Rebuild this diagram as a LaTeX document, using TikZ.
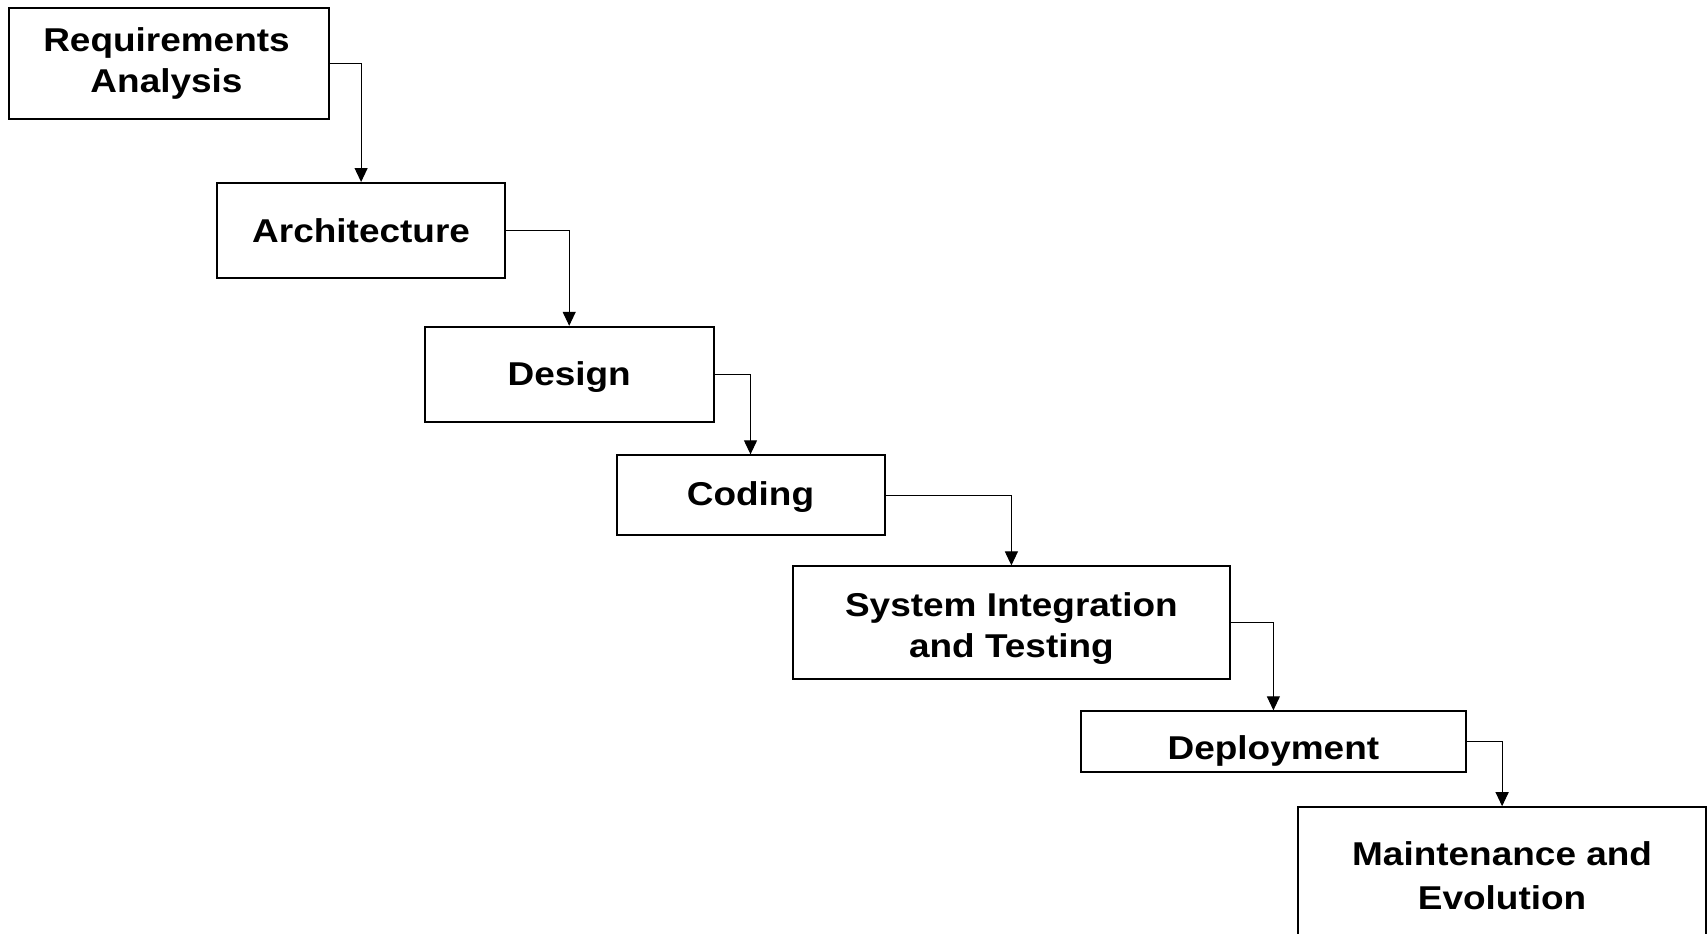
\documentclass[tikz,border=0pt]{standalone}
\usepackage{fontspec}
\setmainfont[FakeStretch=1.12]{Liberation Sans}
\usetikzlibrary{arrows.meta}
\newcommand\topstrut{\rule{0pt}{25pt}}
\newcommand\botstrut{\rule[-7pt]{0pt}{7pt}}
\begin{document}
\begin{tikzpicture}[x=1pt,y=-1pt,
  phase/.style={draw=black,line width=2pt,fill=white,inner sep=0pt},
  ptext/.style={inner sep=0pt,align=center,text=black,
    font=\fontsize{33}{41}\selectfont\bfseries},
  flow/.style={draw=black,line width=1.1pt,-{Triangle[length=14pt,width=13pt]}}]
\fill[white] (0,0) rectangle (1708,934);
\useasboundingbox (0,0) rectangle (1708,934);
% boxes
\node[phase,minimum width=320.3pt,minimum height=111.1pt] (req) at (168.9,63.2) {};
\node[phase,minimum width=288.6pt,minimum height=94.8pt] (arch) at (361.1,230.4) {};
\node[phase,minimum width=288.7pt,minimum height=94.8pt] (des) at (569.2,374.2) {};
\node[phase,minimum width=268pt,minimum height=79.5pt] (cod) at (750.5,495.1) {};
\node[phase,minimum width=436.8pt,minimum height=112.2pt] (sit) at (1011.4,622.5) {};
\node[phase,minimum width=385.6pt,minimum height=61pt] (dep) at (1273.4,741.8) {};
\node[phase,minimum width=407.4pt,minimum height=136pt] (mnt) at (1502.1,875.2) {};
% labels
\node[ptext] (reqt) at (166.5,63.2) {\topstrut Requirements\\Analysis\botstrut};
\node[ptext] (archt) at (361.1,233) {\topstrut Architecture\botstrut};
\node[ptext] (dest) at (569.2,376) {\topstrut Design\botstrut};
\node[ptext] (codt) at (750.5,496.7) {\topstrut Coding\botstrut};
\node[ptext] (sitt) at (1011.4,628) {\topstrut System Integration\\and Testing\botstrut};
\node[ptext] (dept) at (1273.4,750) {\topstrut Deployment\botstrut};
\node[ptext,font=\fontsize{33}{44}\selectfont\bfseries] (mntt) at (1502.1,878.2) {\topstrut Maintenance and\\Evolution\botstrut};
% connectors
\draw[flow] (req.east) -| (arch.north);
\draw[flow] (arch.east) -| (des.north);
\draw[flow] (des.east) -| (cod.north);
\draw[flow] (cod.east) -| (sit.north);
\draw[flow] (sit.east) -| (dep.north);
\draw[flow] (dep.east) -| (mnt.north);
\end{tikzpicture}
\end{document}
